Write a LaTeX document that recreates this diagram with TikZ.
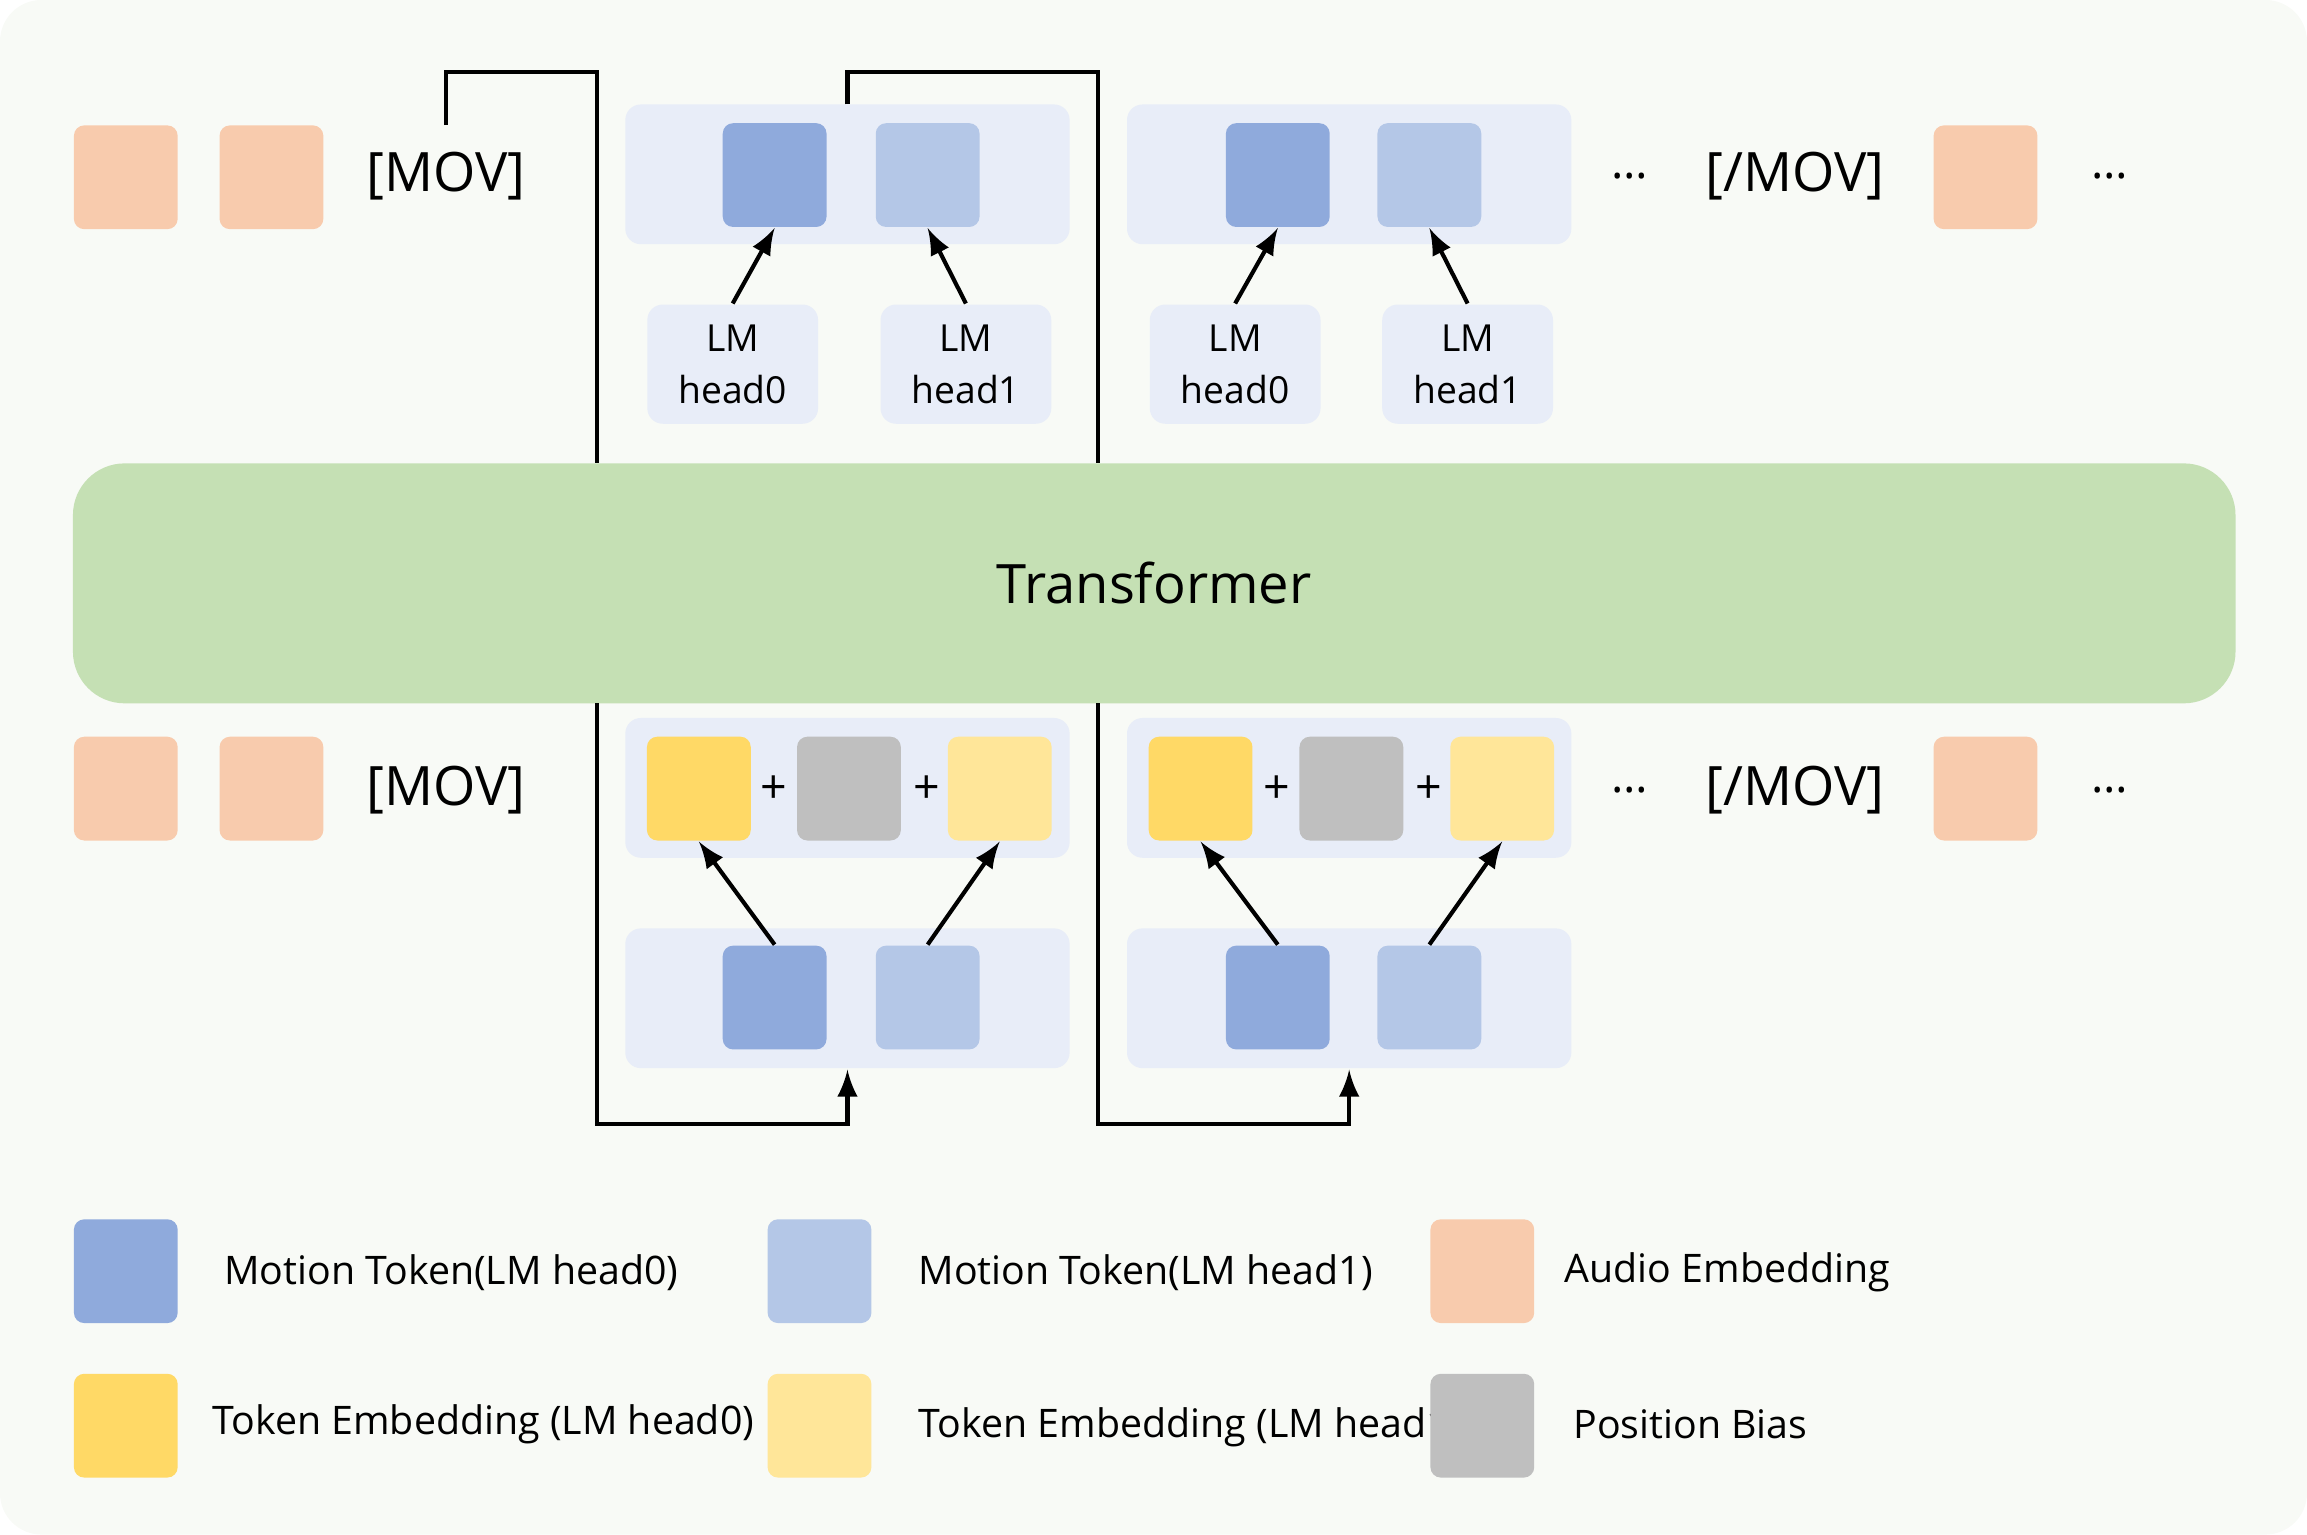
\documentclass[tikz,border=0pt]{standalone}
\usepackage{fontspec}
\setmainfont{Open Sans}
\usetikzlibrary{positioning}
\definecolor{bgc}{RGB}{248,250,246}
\definecolor{panelc}{RGB}{232,237,248}
\definecolor{dblue}{RGB}{143,170,220}
\definecolor{lblue}{RGB}{180,199,231}
\definecolor{audio}{RGB}{248,203,173}
\definecolor{dyel}{RGB}{255,217,102}
\definecolor{lyel}{RGB}{255,230,153}
\definecolor{posc}{RGB}{191,191,191}
\definecolor{trans}{RGB}{197,224,180}
\tikzset{
  sq/.style={minimum size=0.705cm,inner sep=0pt,rounded corners=2pt},
  panel/.style={fill=panelc,rounded corners=3pt},
  head/.style={fill=panelc,rounded corners=3pt,minimum width=1.16cm,minimum height=0.81cm,
    align=center,font=\fontsize{7.2}{10}\selectfont,inner sep=0pt},
  tag/.style={font=\fontsize{10.5}{12}\selectfont},
  dots/.style={font=\fontsize{9}{10}\selectfont},
  leg/.style={anchor=west,font=\fontsize{7.6}{9}\selectfont},
  arr/.style={-latex,thick},
}
\begin{document}
\begin{tikzpicture}[x=0.01cm,y=-0.01cm]
\useasboundingbox (0,0) rectangle (1568,1043);
\fill[bgc,rounded corners=8pt] (0,0) rectangle (1568,1043);
%
% top row
\node[sq,fill=audio] (ta1) at (85.5,120.5) {};
\node[sq,fill=audio] (ta2) at (184.5,120.5) {};
\node[tag] (tmov) at (303,120) {[MOV]};
\fill[panel] (425,71) rectangle (727,166);
\fill[panel] (766,71) rectangle (1068,166);
\node[sq,fill=dblue] (tb1) at (526.5,119) {};
\node[sq,fill=lblue] (tb2) at (630.5,119) {};
\node[sq,fill=dblue] (tb3) at (868.5,119) {};
\node[sq,fill=lblue] (tb4) at (971.5,119) {};
\node[dots] (td1) at (1108,120) {\dots};
\node[tag] (tend) at (1220,120) {[/MOV]};
\node[sq,fill=audio] (ta3) at (1349.5,120.5) {};
\node[dots] (td2) at (1434,120) {\dots};
%
\node[head] (h1) at (498,247.5) {LM\\head0};
\node[head] (h2) at (656.5,247.5) {LM\\head1};
\node[head] (h3) at (839.5,247.5) {LM\\head0};
\node[head] (h4) at (997.5,247.5) {LM\\head1};
\draw[arr] (h1.north) -- (tb1.south);
\draw[arr] (h2.north) -- (tb2.south);
\draw[arr] (h3.north) -- (tb3.south);
\draw[arr] (h4.north) -- (tb4.south);
%
\node[fill=trans,rounded corners=10pt,minimum width=14.69cm,minimum height=1.63cm,
  font=\fontsize{10.5}{12}\selectfont] (tf) at (784.5,396.5) {Transformer};
%
% loops
\coordinate (l1a) at (303,85);
\coordinate (l1b) at (406,315);
\coordinate (l2a) at (576,71);
\coordinate (l2b) at (746,315);
\draw[thick] (l1a) -- (303,49) -| (l1b);
\draw[thick] (l2a) -- (576,49) -| (l2b);
%
% bottom row
\node[sq,fill=audio] (ba1) at (85.5,536) {};
\node[sq,fill=audio] (ba2) at (184.5,536) {};
\node[tag] (bmov) at (303,537) {[MOV]};
\fill[panel] (425,488) rectangle (727,583);
\fill[panel] (766,488) rectangle (1068,583);
\node[sq,fill=dyel] (e1) at (475,536) {};
\node[sq,fill=posc] (p1) at (577,536) {};
\node[sq,fill=lyel] (f1) at (679.5,536) {};
\node[sq,fill=dyel] (e2) at (816,536) {};
\node[sq,fill=posc] (p2) at (918.5,536) {};
\node[sq,fill=lyel] (f2) at (1021,536) {};
\node[dots] at (526,537) {+};
\node[dots] at (630,537) {+};
\node[dots] at (868,537) {+};
\node[dots] at (971,537) {+};
\node[dots] (bd1) at (1108,537) {\dots};
\node[tag] (bend) at (1220,537) {[/MOV]};
\node[sq,fill=audio] (ba3) at (1349.5,536) {};
\node[dots] (bd2) at (1434,537) {\dots};
%
\fill[panel] (425,631) rectangle (727,726);
\fill[panel] (766,631) rectangle (1068,726);
\node[sq,fill=dblue] (bb1) at (526.5,678) {};
\node[sq,fill=lblue] (bb2) at (630.5,678) {};
\node[sq,fill=dblue] (bb3) at (868.5,678) {};
\node[sq,fill=lblue] (bb4) at (971.5,678) {};
\draw[arr] (bb1.north) -- (e1.south);
\draw[arr] (bb2.north) -- (f1.south);
\draw[arr] (bb3.north) -- (e2.south);
\draw[arr] (bb4.north) -- (f2.south);
%
\coordinate (r1a) at (406,478);
\coordinate (r1b) at (576,727);
\coordinate (r2a) at (746,478);
\coordinate (r2b) at (917,727);
\draw[arr] (r1a) |- (576,764) -- (r1b);
\draw[arr] (r2a) |- (917,764) -- (r2b);
%
% legend
\node[sq,fill=dblue] (k1) at (85.5,864) {};
\node[leg] at (140,865) {Motion Token(LM head0)};
\node[sq,fill=lblue] (k2) at (557,864) {};
\node[leg] at (612,865) {Motion Token(LM head1)};
\node[sq,fill=audio] (k3) at (1007.5,864) {};
\node[leg] at (1051,865) {Audio Embedding};
\node[sq,fill=dyel] (k4) at (85.5,969) {};
\node[leg] at (132,968) {Token Embedding (LM head0)};
\node[sq,fill=lyel] (k5) at (557,969) {};
\node[leg] at (612,970) {Token Embedding (LM head1)};
\node[sq,fill=posc] (k6) at (1007.5,969) {};
\node[leg] at (1057,968) {Position Bias};
\end{tikzpicture}
\end{document}
